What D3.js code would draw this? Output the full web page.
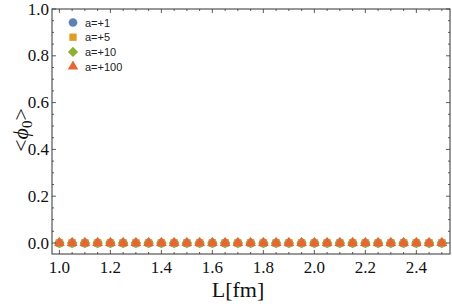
<!DOCTYPE html>
<html>
<head>
<meta charset="utf-8">
<script src="https://cdn.jsdelivr.net/npm/d3@7"></script>
<style>
  body { margin: 0; background: #fff; }
  svg { display: block; }
  .serif { font-family: "Liberation Serif", "Times New Roman", Times, "DejaVu Serif", serif; }
  .sans { font-family: "Liberation Sans", Arial, Helvetica, sans-serif; }
</style>
</head>
<body>
<svg id="chart" width="452" height="304"></svg>
<script>
// data
const lValues = d3.range(31).map(i => +(1.0 + i * 0.05).toFixed(2));
const series = [
  { name: "a=+1",   shape: "circle",   color: "#5E81B5", values: lValues.map(() => 0) },
  { name: "a=+5",   shape: "square",   color: "#E19C24", values: lValues.map(() => 0) },
  { name: "a=+10",  shape: "diamond",  color: "#8FB032", values: lValues.map(() => 0) },
  { name: "a=+100", shape: "triangle", color: "#EB6235", values: lValues.map(() => 0) }
];
const xTicks = [1.0, 1.2, 1.4, 1.6, 1.8, 2.0, 2.2, 2.4];
const yTicks = [0.0, 0.2, 0.4, 0.6, 0.8, 1.0];

const svg = d3.select("#chart");
const margin = { top: 9, right: 2, bottom: 50, left: 52 };
const innerW = 452 - margin.left - margin.right;
const innerH = 304 - margin.top - margin.bottom;

const x = d3.scaleLinear().domain([0.971, 2.532]).range([0, innerW]);
const y = d3.scaleLinear().domain([-0.047, 1.0]).range([innerH, 0]);

const g = svg.append("g").attr("transform", `translate(${margin.left},${margin.top})`);

// square rotated 45 degrees for the diamond
const diamondWide = {
  draw(context, size) {
    const r = Math.sqrt(size / 2);
    context.moveTo(0, -r);
    context.lineTo(r, 0);
    context.lineTo(0, r);
    context.lineTo(-r, 0);
    context.closePath();
  }
};
const symbolType = {
  circle: d3.symbolCircle,
  square: d3.symbolSquare,
  diamond: diamondWide,
  triangle: d3.symbolTriangle
};
const symbolSize = { circle: 62, square: 56, diamond: 56, triangle: 50 };

// points
series.forEach(s => {
  g.append("g").selectAll("path")
    .data(s.values.map((v, i) => ({ l: lValues[i], v })))
    .join("path")
    .attr("transform", d => `translate(${x(d.l)},${y(d.v)})`)
    .attr("d", d3.symbol().type(symbolType[s.shape]).size(symbolSize[s.shape]))
    .attr("fill", s.color);
});

// frame
const frameColor = "#333";
g.append("rect")
  .attr("width", innerW).attr("height", innerH)
  .attr("fill", "none").attr("stroke", frameColor).attr("stroke-width", 1);

// ticks, inside the frame
const xMinor = d3.range(0.95, 2.55, 0.05).filter(v => v >= 0.971 && v <= 2.532);
const yMinor = d3.range(0, 1.0001, 0.05);
xMinor.forEach(v => {
  const major = xTicks.some(t => Math.abs(t - v) < 1e-6);
  const len = major ? 4 : 2;
  g.append("line").attr("x1", x(v)).attr("x2", x(v)).attr("y1", innerH).attr("y2", innerH - len)
    .attr("stroke", frameColor).attr("stroke-width", 0.8);
  g.append("line").attr("x1", x(v)).attr("x2", x(v)).attr("y1", 0).attr("y2", len)
    .attr("stroke", frameColor).attr("stroke-width", 0.8);
});
yMinor.forEach(v => {
  const major = yTicks.some(t => Math.abs(t - v) < 1e-6);
  const len = major ? 4 : 2;
  g.append("line").attr("x1", 0).attr("x2", len).attr("y1", y(v)).attr("y2", y(v))
    .attr("stroke", frameColor).attr("stroke-width", 0.8);
  g.append("line").attr("x1", innerW).attr("x2", innerW - len).attr("y1", y(v)).attr("y2", y(v))
    .attr("stroke", frameColor).attr("stroke-width", 0.8);
});

// tick labels
g.selectAll("text.xt").data(xTicks).join("text")
  .attr("class", "xt serif")
  .attr("x", d => x(d)).attr("y", innerH + 19)
  .attr("text-anchor", "middle")
  .attr("font-size", 17).attr("fill", "#111")
  .text(d => d.toFixed(1));
g.selectAll("text.yt").data(yTicks).join("text")
  .attr("class", "yt serif")
  .attr("x", -3).attr("y", d => y(d) + 5.5)
  .attr("text-anchor", "end")
  .attr("font-size", 17).attr("fill", "#111")
  .text(d => d.toFixed(1));

// axis titles
svg.append("text")
  .attr("class", "serif")
  .attr("x", 238).attr("y", 297)
  .attr("text-anchor", "middle")
  .attr("font-size", 22).attr("fill", "#111")
  .text("L[fm]");

const yl = svg.append("text")
  .attr("class", "serif")
  .attr("transform", "translate(28,130) rotate(-90)")
  .attr("text-anchor", "middle")
  .attr("font-size", 22).attr("fill", "#111");
yl.append("tspan").text("<");
yl.append("tspan").attr("font-style", "italic").text("ϕ");
yl.append("tspan").attr("font-size", 15).attr("dy", 4).text("0");
yl.append("tspan").attr("dy", -4).text(">");

// legend
const legend = g.append("g").attr("transform", "translate(21,13.5)");
series.forEach((s, i) => {
  const row = legend.append("g").attr("transform", `translate(0,${i * 14.7})`);
  row.append("path")
    .attr("d", d3.symbol().type(symbolType[s.shape]).size(symbolSize[s.shape] * 0.95))
    .attr("fill", s.color);
  row.append("text")
    .attr("class", "sans")
    .attr("x", 12).attr("y", 4)
    .attr("font-size", 11)
    .attr("fill", "#222")
    .text(s.name);
});
</script>
</body>
</html>
